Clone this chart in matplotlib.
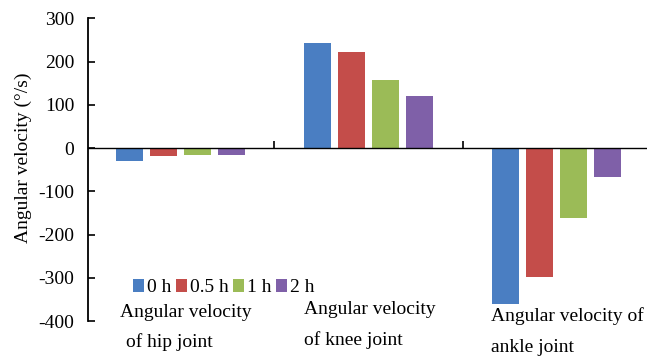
import matplotlib.pyplot as plt
import numpy as np

plt.rcParams['font.family'] = 'Liberation Serif'
plt.rcParams['axes.unicode_minus'] = False

joints = ['hip', 'knee', 'ankle']
times = ['0 h', '0.5 h', '1 h', '2 h']
hip = [-29, -19, -16, -15]
knee = [242, 222, 157, 121]
ankle = [-360, -299, -161, -67]
colors = ['#4A7EC2', '#C44D4A', '#9BBB57', '#7F60A8']

vals = np.array([hip, knee, ankle])
x = np.arange(len(joints))

fig = plt.figure(figsize=(6.47, 3.58), dpi=100)
ax = fig.add_axes([0.136, 0.103, 0.864, 0.846])

width = 0.144
step = 0.181
for i in range(len(times)):
    ax.bar(x + (i - 1.5) * step, vals[:, i], width, color=colors[i], label=times[i])

ax.set_xlim(-0.49, 2.48)
ax.set_ylim(-400, 300)
ax.set_yticks(np.arange(-400, 301, 100))
ax.tick_params(axis='y', direction='in', length=5, width=1.2, labelsize=14, pad=10)
ax.set_xticks([0.5, 1.5])
ax.set_xticklabels([])
ax.tick_params(axis='x', direction='in', length=5, width=1.2)

ax.spines['top'].set_visible(False)
ax.spines['right'].set_visible(False)
ax.spines['bottom'].set_position(('data', 0))
ax.spines['left'].set_linewidth(1.3)
ax.spines['bottom'].set_linewidth(1.0)

ax.set_ylabel('Angular velocity (°/s)', fontsize=14)
ax.yaxis.set_label_coords(-0.1, 0.54)

# category labels under the bars
fs = 14
ax.text(-0.32, -379, 'Angular velocity', fontsize=fs, ha='left', va='center')
ax.text(-0.29, -448, 'of hip joint', fontsize=fs, ha='left', va='center', clip_on=False)
ax.text(0.66, -374, 'Angular velocity', fontsize=fs, ha='left', va='center')
ax.text(0.66, -443, 'of knee joint', fontsize=fs, ha='left', va='center', clip_on=False)
ax.text(1.65, -388, 'Angular velocity of', fontsize=fs, ha='left', va='center')
ax.text(1.65, -460, 'ankle joint', fontsize=fs, ha='left', va='center', clip_on=False)

ax.legend(loc='center left', bbox_to_anchor=(0.066, 0.11), ncol=4, frameon=False,
          fontsize=14, handlelength=0.6, handleheight=0.6, handletextpad=0.15,
          columnspacing=0.2, borderaxespad=0)

fig.savefig('out.png', dpi=100)
